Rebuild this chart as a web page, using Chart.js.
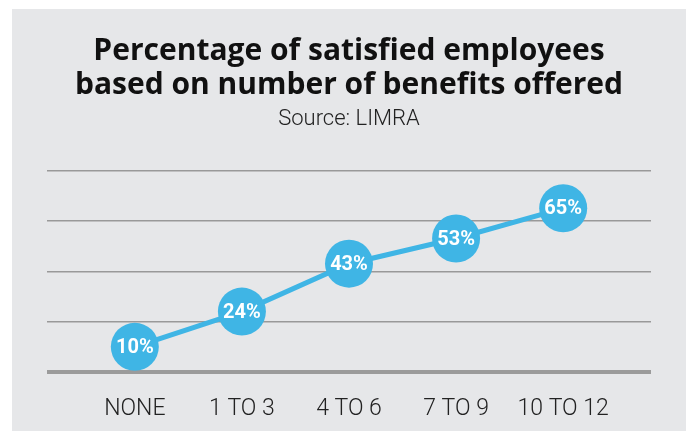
<!DOCTYPE html>
<html>
<head>
<meta charset="utf-8">
<script src="https://cdn.jsdelivr.net/npm/chart.js@4"></script>
<style>
  html, body { margin: 0; padding: 0; background: #fff; }
  #wrap { width: 690px; height: 431px; }
</style>
</head>
<body>
<div id="wrap"><canvas id="benefitsChart"></canvas></div>
<script>
var categories = ["NONE", "1 TO 3", "4 TO 6", "7 TO 9", "10 TO 12"];
var satisfied = [10, 24, 43, 53, 65];
var yTicks = [0, 20, 40, 60, 80];

var blue = "#3fb5e5";

var panelBg = {
  id: "panelBg",
  beforeDraw: function (chart) {
    var ctx = chart.ctx;
    ctx.save();
    ctx.fillStyle = "#ffffff";
    ctx.fillRect(0, 0, chart.width, chart.height);
    ctx.fillStyle = "#e6e7e9";
    ctx.fillRect(12, 9, 674, chart.height - 9);
    ctx.restore();
  }
};

var pointLabels = {
  id: "pointLabels",
  afterDatasetsDraw: function (chart) {
    var ctx = chart.ctx;
    var meta = chart.getDatasetMeta(0);
    ctx.save();
    ctx.fillStyle = "#ffffff";
    ctx.font = "700 20px Roboto";
    ctx.textAlign = "center";
    ctx.textBaseline = "middle";
    meta.data.forEach(function (pt, i) {
      ctx.fillText(satisfied[i] + "%", pt.x, pt.y + 1);
    });
    ctx.restore();
  }
};

var benefitsCanvas = document.getElementById("benefitsChart");

var benefitsData = {
  datasets: [
    {
      data: satisfied.map(function (v, i) { return { x: i, y: v }; }),
      borderColor: blue,
      borderWidth: 5,
      backgroundColor: blue,
      pointRadius: 24,
      pointHoverRadius: 24,
      pointBorderWidth: 0,
      pointBackgroundColor: blue,
      tension: 0
    }]
};

var chartOptions = {
  responsive: true,
  maintainAspectRatio: false,
  animation: false,
  events: [],
  layout: {
    padding: { left: 47, right: 39, top: 0, bottom: 11 }
  },
  plugins: {
    legend: { display: false },
    tooltip: { enabled: false },
    title: {
      display: true,
      text: ["Percentage of satisfied employees", "based on number of benefits offered"],
      color: "#111111",
      font: { family: "Open Sans", size: 30, weight: "700", lineHeight: 1.12 },
      padding: { top: 35, bottom: 5 }
    },
    subtitle: {
      display: true,
      text: "Source: LIMRA",
      color: "#222222",
      font: { family: "Roboto", size: 22, weight: "300", lineHeight: 1.15 },
      padding: { top: 0, bottom: 38 }
    }
  },
  scales: {
    x: {
      type: "linear",
      min: -0.82,
      max: 4.82,
      afterBuildTicks: function (scale) {
        scale.ticks = categories.map(function (c, i) { return { value: i }; });
      },
      afterFit: function (scale) { scale.height = 48; },
      ticks: {
        autoSkip: false,
        maxRotation: 0,
        padding: 15,
        color: "#222222",
        font: { family: "Roboto", size: 23, weight: "300" },
        callback: function (value) { return categories[value]; }
      },
      grid: { display: false },
      border: { display: false }
    },
    y: {
      min: 0,
      max: 80,
      afterBuildTicks: function (scale) {
        scale.ticks = yTicks.map(function (v) { return { value: v }; });
      },
      afterFit: function (scale) { scale.width = 0; },
      ticks: { display: false },
      grid: {
        drawTicks: false,
        color: function (c) { return c.tick.value === 0 ? "#9b9b9b" : "#999999"; },
        lineWidth: function (c) { return c.tick.value === 0 ? 4 : 1.5; }
      },
      border: { display: false }
    }
  }
};

var lineChart = new Chart(benefitsCanvas, {
  type: "line",
  data: benefitsData,
  options: chartOptions,
  plugins: [panelBg, pointLabels]
});
</script>
</body>
</html>
